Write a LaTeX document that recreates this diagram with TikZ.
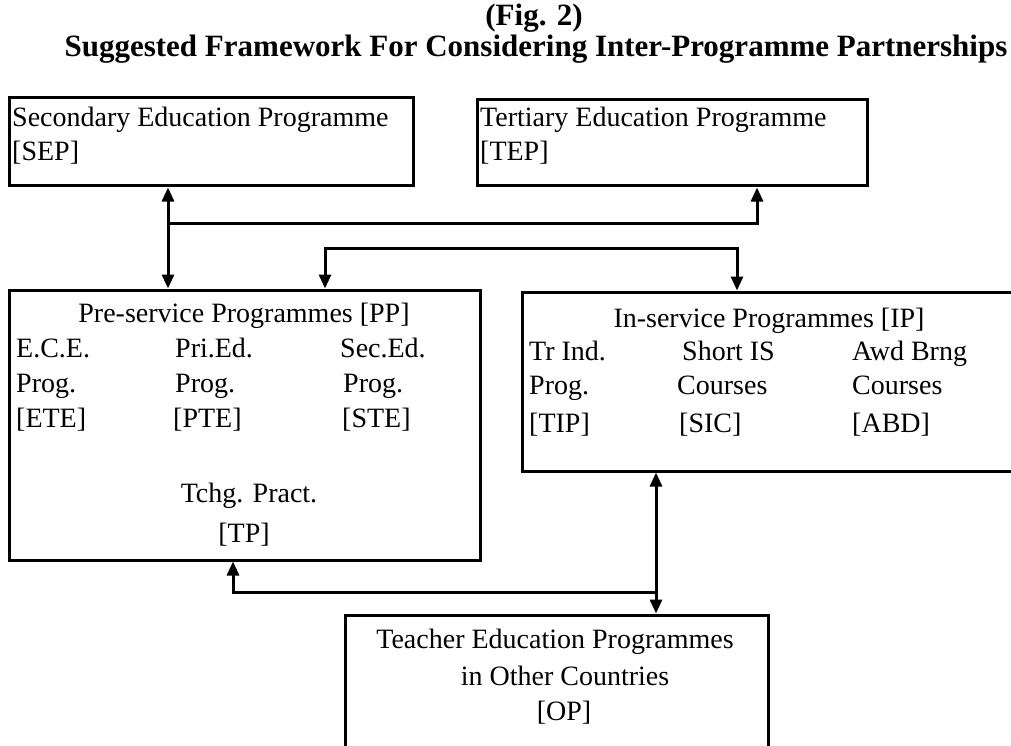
\documentclass[tikz,border=0pt]{standalone}
\usepackage{fontspec}
\setmainfont{Liberation Serif}
\usetikzlibrary{arrows.meta}
\begin{document}
\begin{tikzpicture}[x=1pt,y=-1pt,
  box/.style={draw, line width=3pt, inner sep=0pt},
  txt/.style={inner sep=0pt, font=\fontsize{28}{34}\selectfont},
  ttl/.style={inner sep=0pt, font=\fontsize{31}{37}\selectfont\bfseries, anchor=base},
  link/.style={line width=3pt},
  tip/.tip={Triangle[length=14pt,width=12pt]},
  dbl/.style={link, tip-tip},
  one/.style={link, -tip}]
\useasboundingbox (0,0) rectangle (1011,746);
\clip (0,0) rectangle (1011,746);

% heading
\node[ttl] (fig) at (534,26) {(Fig. 2)};
\node[ttl] (title) at (536,57) {Suggested Framework For Considering Inter-Programme Partnerships};

% boxes
\node[box, minimum width=404pt, minimum height=88pt] (sep) at (211,142) {};
\node[box, minimum width=390pt, minimum height=86pt] (tep) at (672,143) {};
\node[box, minimum width=471pt, minimum height=270pt] (pp) at (244.5,425) {};
\node[box, minimum width=494pt, minimum height=179pt] (ip) at (769,381.5) {};
\node[box, minimum width=423pt, minimum height=160pt] (op) at (556.5,695) {};

% secondary / tertiary
\node[txt, anchor=base west] (sep1) at (12,127) {Secondary Education Programme};
\node[txt, anchor=base west] (sep2) at (12,161) {[SEP]};
\node[txt, anchor=base west] (tep1) at (480,127) {Tertiary Education Programme};
\node[txt, anchor=base west] (tep2) at (480,161) {[TEP]};

% pre-service
\node[txt, anchor=base] (pph) at (244,322) {Pre-service Programmes [PP]};
\node[txt, anchor=base west] (pa1) at (16,357) {E.C.E.};
\node[txt, anchor=base west] (pa2) at (16,392) {Prog.};
\node[txt, anchor=base west] (pa3) at (16,427) {[ETE]};
\node[txt, anchor=base west] (pb1) at (175,357) {Pri.Ed.};
\node[txt, anchor=base west] (pb2) at (175,392) {Prog.};
\node[txt, anchor=base west] (pb3) at (173,427) {[PTE]};
\node[txt, anchor=base west] (pc1) at (340,357) {Sec.Ed.};
\node[txt, anchor=base west] (pc2) at (343,392) {Prog.};
\node[txt, anchor=base west] (pc3) at (342,427) {[STE]};
\node[txt, anchor=base] (tp1) at (249,502) {Tchg. Pract.};
\node[txt, anchor=base] (tp2) at (244,542) {[TP]};

% in-service
\node[txt, anchor=base] (iph) at (769,327) {In-service Programmes [IP]};
\node[txt, anchor=base west] (ia1) at (529,360) {Tr Ind.};
\node[txt, anchor=base west] (ia2) at (529,394) {Prog.};
\node[txt, anchor=base west] (ia3) at (529,432) {[TIP]};
\node[txt, anchor=base west] (ib1) at (682,360) {Short IS};
\node[txt, anchor=base west] (ib2) at (677,394) {Courses};
\node[txt, anchor=base west] (ib3) at (679,432) {[SIC]};
\node[txt, anchor=base west] (ic1) at (852,360) {Awd Brng};
\node[txt, anchor=base west] (ic2) at (852,394) {Courses};
\node[txt, anchor=base west] (ic3) at (852,432) {[ABD]};

% other countries
\node[txt, anchor=base] (op1) at (555,648) {Teacher Education Programmes};
\node[txt, anchor=base] (op2) at (565,685) {in Other Countries};
\node[txt, anchor=base] (op3) at (564,720) {[OP]};

% junctions of the connectors
\coordinate (j1) at (168,223);
\coordinate (j2) at (325,248);
\coordinate (j3) at (656,592);

% connectors
\draw[dbl] (sep.south -| j1) -- (pp.north -| j1);
\draw[one] (j1) -| (tep.south -| 757,0);
\draw[dbl] (pp.north -| j2) -- (j2) -| (ip.north -| 737,0);
\draw[dbl] (ip.south -| j3) -- (op.north -| j3);
\draw[one] (j3) -| (pp.south -| 233,0);
\end{tikzpicture}
\end{document}
